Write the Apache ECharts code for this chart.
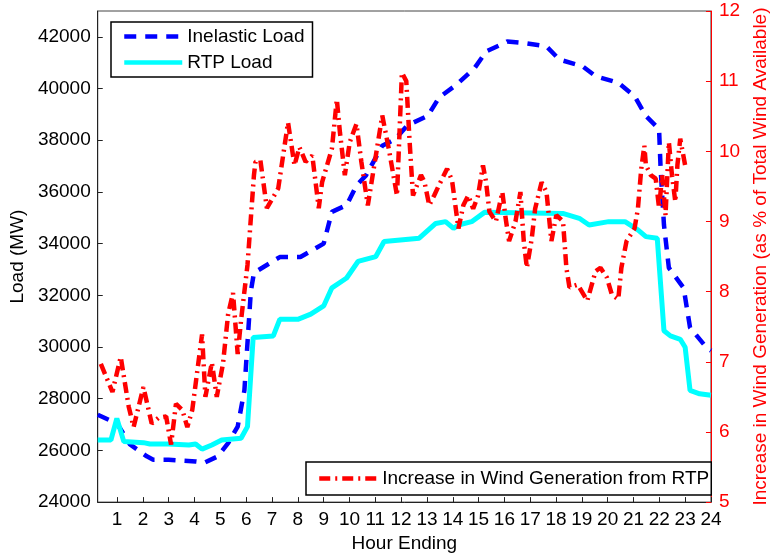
<!DOCTYPE html>
<html>
<head>
<meta charset="utf-8">
<script src="https://cdn.jsdelivr.net/npm/echarts@6/dist/echarts.min.js"></script>
<style>
  html, body { margin: 0; padding: 0; background: #fff; }
  #chart { width: 778px; height: 558px; }
</style>
</head>
<body>
<div id="chart"></div>
<script>
// hour ending ticks
var hourTicks = [1, 2, 3, 4, 5, 6, 7, 8, 9, 10, 11, 12, 13, 14, 15, 16, 17, 18, 19, 20, 21, 22, 23, 24]
var loadTicks = [24000, 26000, 28000, 30000, 32000, 34000, 36000, 38000, 40000, 42000]

// Inelastic Load (MW)
var inelasticHours = [0.25, 1.0, 1.5, 2.15, 2.4, 3.0, 4.04, 4.4, 4.9, 5.3, 5.67, 5.93, 6.18, 6.3, 7.3, 8.1,
  9.0, 9.32, 9.89, 10.27, 10.64, 11.27, 11.78, 12.25, 13.03, 13.47, 14.16, 14.85, 15.3, 16.0, 16.11,
  16.75, 17.63, 18.13, 19.03, 19.53, 20.41, 21.04, 21.48, 21.99, 22.05, 22.18, 22.37, 22.94, 23.19, 23.82, 24.0]
var inelasticLoad = [27380, 27040, 26230, 25770, 25640, 25640, 25575, 25530, 25770, 26280, 26920, 28320, 32160, 32870, 33480, 33480,
  34000, 35230, 35490, 36250, 36640, 37790, 38050, 38580, 38940, 39650, 40160, 40800, 41440, 41760, 41820,
  41760, 41630, 41120, 40860, 40480, 40220, 39710, 38940, 38430, 36900, 34720, 33060, 32290, 30750, 29990, 29860]

// RTP Load (MW)
var rtpHours = [0.25, 0.76, 0.99, 1.26, 2.02, 2.27, 3.0, 3.78, 4.04, 4.29, 4.67, 5.05, 5.8, 6.05, 6.27, 7.05, 7.3, 8.0,
  8.5, 9.0, 9.32, 9.89, 10.33, 11.02, 11.34, 12.7, 13.34, 13.72, 14.03, 14.22, 14.73, 15.23, 18.26, 18.9,
  19.28, 20.04, 20.67, 21.17, 21.48, 21.92, 22.18, 22.43, 22.81, 23.0, 23.19, 23.56, 24.0]
var rtpLoad = [26400, 26400, 27240, 26340, 26300, 26250, 26250, 26210, 26250, 26050, 26210, 26400, 26470, 26920, 30370, 30430, 31070, 31070,
  31270, 31590, 32290, 32670, 33310, 33500, 34080, 34210, 34780, 34850, 34590, 34720, 34850, 35210, 35170, 34980,
  34720, 34850, 34850, 34530, 34270, 34210, 30630, 30430, 30300, 29990, 28320, 28190, 28130]

// Increase in wind generation (% of total wind available)
var windHours = [0.37, 0.82, 1.14, 1.45, 1.64, 2.02, 2.34, 2.6, 2.9, 3.09, 3.28, 3.53, 3.72, 3.91, 4.29, 4.42, 4.67, 4.86,
  5.1, 5.3, 5.49, 5.67, 5.8, 6.05, 6.3, 6.36, 6.55, 6.8, 7.24, 7.62, 7.87, 8.06, 8.3, 8.56, 8.81, 8.94,
  9.32, 9.51, 9.63, 9.82, 10.01, 10.27, 10.46, 10.71, 10.96, 11.27, 11.52, 11.84, 12.03, 12.2, 12.33, 12.46,
  12.77, 12.9, 13.09, 13.28, 13.47, 13.78, 13.97, 14.22, 14.41, 14.6, 14.79, 14.98, 15.17, 15.29, 15.42, 15.67,
  15.92, 16.05, 16.18, 16.43, 16.62, 16.75, 16.87, 17.06, 17.19, 17.44, 17.63, 17.82, 18.01, 18.27, 18.4, 18.52,
  18.84, 19.21, 19.53, 19.72, 19.97, 20.16, 20.41, 20.53, 20.73, 21.04, 21.17, 21.3, 21.42, 21.48, 21.67, 21.86,
  21.99, 22.11, 22.24, 22.37, 22.49, 22.62, 22.7, 22.81, 23.0, 23.13]
var windIncrease = [6.97, 6.57, 7.07, 6.36, 6.07, 6.64, 6.12, 6.2, 6.22, 5.82, 6.4, 6.31, 6.07, 6.31, 7.39, 6.5, 6.99, 6.5,
  6.97, 7.68, 7.98, 7.11, 7.59, 8.38, 9.66, 9.85, 9.87, 9.19, 9.47, 10.41, 9.8, 10.06, 9.85, 9.94, 9.19, 9.56,
  10.04, 10.74, 10.27, 9.66, 10.13, 10.39, 9.85, 9.23, 9.8, 10.51, 10.04, 9.37, 11.12, 11.0, 10.13, 9.37,
  9.66, 9.57, 9.23, 9.37, 9.52, 9.75, 9.59, 8.9, 9.23, 9.37, 9.18, 9.37, 9.8, 9.56, 9.14, 9.0,
  9.42, 9.04, 8.72, 9.0, 9.42, 8.72, 8.34, 8.76, 9.18, 9.56, 9.42, 8.72, 9.09, 9.0, 8.34, 8.06,
  8.1, 7.87, 8.29, 8.34, 8.2, 7.96, 7.89, 8.34, 8.72, 8.9, 9.18, 9.75, 10.08, 9.8, 9.66, 9.61,
  9.19, 9.66, 9.09, 10.13, 9.66, 9.28, 9.8, 10.18, 9.8, 9.82]

function pairs(xs, ys) {
  return xs.map(function (x, i) { return [x, ys[i]] })
}

var font = 'Liberation Sans, Arial, Helvetica, sans-serif'
var chart = echarts.init(document.getElementById('chart'))

var legendBase = {
  borderColor: '#000', borderWidth: 1.5, borderRadius: 0,
  backgroundColor: '#fff',
  selectedMode: false,
  itemWidth: 58, itemHeight: 16,
  itemStyle: { opacity: 0 },
  lineStyle: { width: 4.5 },
  textStyle: { fontSize: 19, color: '#000', fontFamily: font }
}

chart.setOption({
  animation: false,
  backgroundColor: '#fff',
  textStyle: { fontFamily: font },
  grid: {
    left: 97, right: 54, top: 11, bottom: 52,
    show: true, borderColor: '#444', borderWidth: 1
  },
  legend: [
    Object.assign({}, legendBase, {
      data: ['Inelastic Load', 'RTP Load'],
      orient: 'vertical',
      left: 111, top: 22,
      padding: [5, 8, 5, 11],
      itemGap: 7
    }),
    Object.assign({}, legendBase, {
      data: ['Increase in Wind Generation from RTP'],
      left: 306, top: 462,
      padding: [7, 2, 7, 11]
    })
  ],
  xAxis: {
    type: 'value',
    min: 0.25, max: 24,
    name: 'Hour Ending',
    nameLocation: 'middle',
    nameGap: 30,
    nameTextStyle: { fontSize: 19, color: '#000' },
    axisLine: { lineStyle: { color: '#222', width: 1 } },
    axisTick: { inside: true, length: 5, customValues: hourTicks, lineStyle: { color: '#222' } },
    axisLabel: { customValues: hourTicks, fontSize: 19, color: '#000', margin: 8 },
    splitLine: { show: false }
  },
  yAxis: [
    {
      type: 'value',
      min: 24000, max: 43000,
      name: 'Load (MW)',
      nameLocation: 'middle',
      nameGap: 69,
      nameTextStyle: { fontSize: 19, color: '#000' },
      axisLine: { show: true, lineStyle: { color: '#222', width: 1 } },
      axisTick: { show: true, inside: true, length: 5, customValues: loadTicks, lineStyle: { color: '#222' } },
      axisLabel: {
        customValues: loadTicks, fontSize: 19, color: '#000', margin: 7,
        formatter: function (v) { return String(v) }
      },
      splitLine: { show: false }
    },
    {
      type: 'value',
      position: 'right',
      min: 5, max: 12, interval: 1,
      name: 'Increase in Wind Generation (as % of Total Wind Available)',
      nameLocation: 'middle',
      nameGap: 33,
      nameTextStyle: { fontSize: 19, color: '#ff0000' },
      axisLine: { show: true, lineStyle: { color: '#ff0000', width: 1 } },
      axisTick: { show: true, inside: true, length: 5, lineStyle: { color: '#ff0000' } },
      axisLabel: { fontSize: 19, color: '#ff0000', margin: 8 },
      splitLine: { show: false }
    }
  ],
  series: [
    {
      name: 'Inelastic Load',
      type: 'line',
      yAxisIndex: 0,
      data: pairs(inelasticHours, inelasticLoad),
      symbol: 'none',
      color: '#0000ff',
      lineStyle: { color: '#0000ff', width: 4.5, type: [12, 9], cap: 'butt' }
    },
    {
      name: 'RTP Load',
      type: 'line',
      yAxisIndex: 0,
      data: pairs(rtpHours, rtpLoad),
      symbol: 'none',
      color: '#00ffff',
      lineStyle: { color: '#00ffff', width: 5 }
    },
    {
      name: 'Increase in Wind Generation from RTP',
      type: 'line',
      yAxisIndex: 1,
      data: pairs(windHours, windIncrease),
      symbol: 'none',
      color: '#ff0000',
      lineStyle: { color: '#ff0000', width: 4.5, type: [11, 5, 2, 5], cap: 'butt' }
    }
  ]
})
</script>
</body>
</html>
